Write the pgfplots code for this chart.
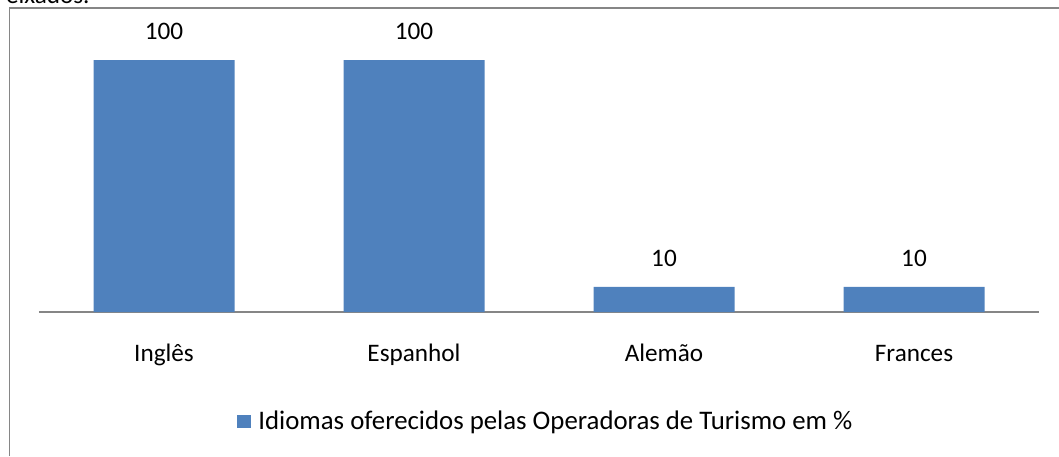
\documentclass[border=0pt]{standalone}
\usepackage{pgfplots}
\pgfplotsset{compat=1.18}
\usepackage{fontspec}
\setmainfont{Carlito}
\definecolor{barblue}{RGB}{79,129,189}
\definecolor{linegray}{RGB}{134,134,134}
\begin{document}
\begin{tikzpicture}[font=\fontsize{12.6}{15}\selectfont]
\useasboundingbox (0,0) rectangle (529.5pt,228pt);
\clip (0,0) rectangle (529.5pt,228pt);
\node[anchor=base east, inner sep=0pt] at (45pt,226pt) {Peixados.};
\draw[linegray, line width=0.9pt] (4.75pt,0) -- (4.75pt,224pt) -- (530pt,224pt);
\begin{axis}[
  at={(19.5pt,72pt)}, anchor=south west,
  scale only axis, width=500pt, height=126pt,
  xmin=-0.5, xmax=3.5, ymin=0, ymax=100,
  clip=false,
  axis x line=bottom, axis y line=none,
  x axis line style={-, draw=linegray, line width=1pt},
  xtick={0,1,2,3},
  xticklabels={Inglês,Espanhol,Alemão,Frances},
  xtick style={draw=none},
  xticklabel style={anchor=base, yshift=-20.5pt},
  ybar, bar width=70.5pt,
  /pgf/number format/assume math mode=true,
  nodes near coords,
  every node near coord/.append style={anchor=south, inner sep=0pt, yshift=10pt, text=black},
  legend style={draw=none, fill=none, inner sep=0pt,
    font=\fontsize{13.4}{16}\selectfont,
    at={(axis description cs:0.198,-0.4365)}, anchor=west,
    nodes={inner sep=0pt, anchor=base west}, column sep=3.5pt},
  legend image code/.code={\fill[barblue] (0pt,1pt) rectangle (7pt,7.5pt);},
]
\addplot[fill=barblue, draw=none] coordinates {(0,100) (1,100) (2,10) (3,10)};
\legend{Idiomas oferecidos pelas Operadoras de Turismo em \%}
\end{axis}
\end{tikzpicture}
\end{document}
